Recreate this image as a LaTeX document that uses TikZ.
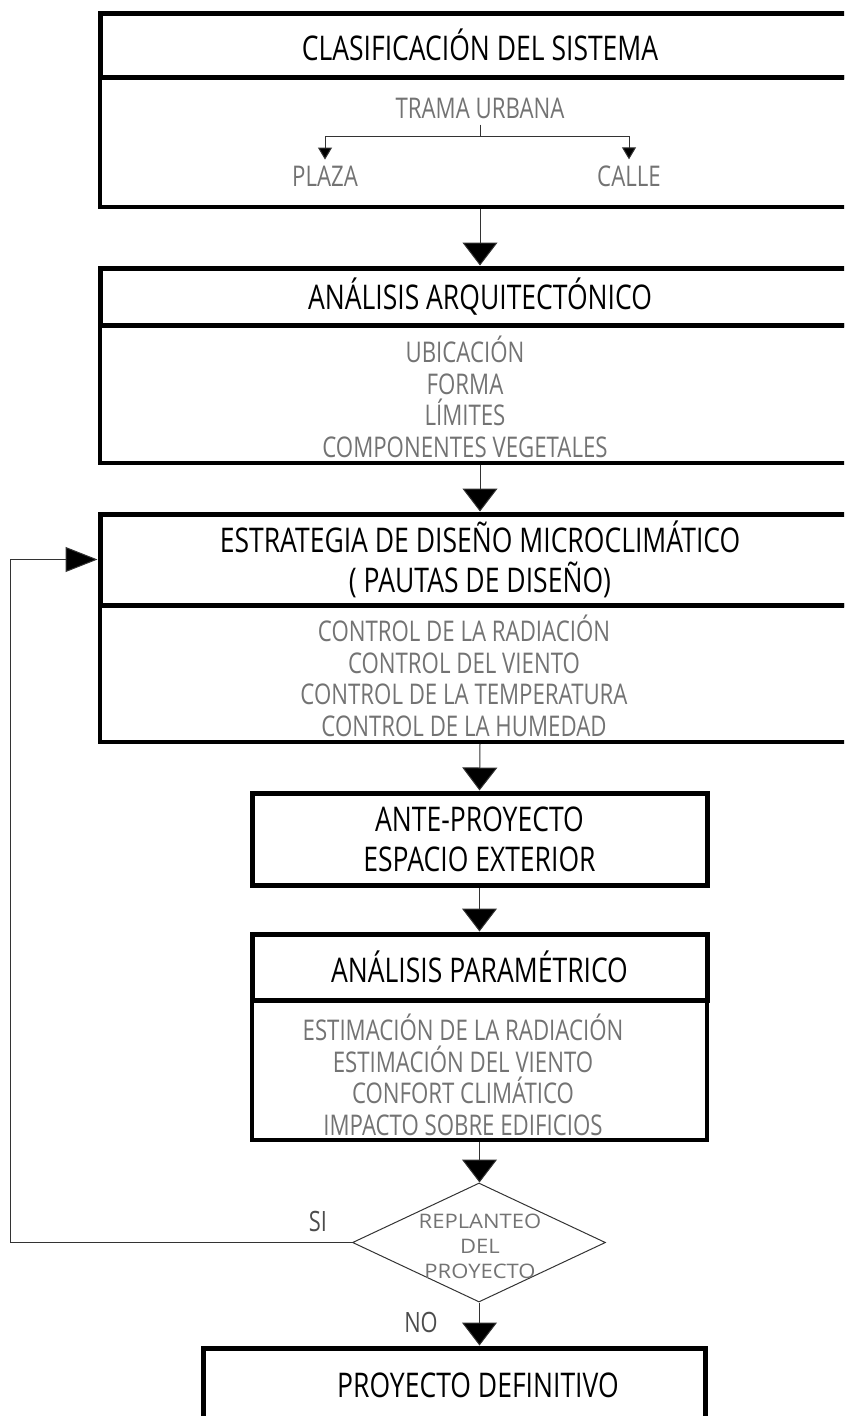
\documentclass[tikz,border=0pt]{standalone}
\usepackage{fontspec}
\setmainfont{Open Sans}
\newfontfamily\nf{Open Sans}[FakeStretch=0.78]
\newfontfamily\wf{Open Sans}[FakeStretch=1.1]
\usetikzlibrary{arrows.meta,shapes.geometric}
\tikzset{
  hdr/.style={draw=black, line width=5pt, inner sep=0pt, font=\nf\fontsize{34}{40}\selectfont, align=center},
  body/.style={draw=black, line width=3.5pt, inner sep=0pt},
  itm/.style={inner sep=0pt, text=black!55, font=\nf\fontsize{28.5}{31.5}\selectfont, align=center},
  lbl/.style={inner sep=0pt, text=black!70, font=\nf\fontsize{28}{31}\selectfont},
  dtxt/.style={inner sep=0pt, text=black!55, font=\wf\fontsize{20}{25}\selectfont, align=center},
  arr/.style={line width=1pt, draw=black!80, -{Triangle[width=35pt,length=23pt,fill=black]}},
  sarr/.style={line width=1pt, draw=black!80, -{Triangle[width=14pt,length=12pt,fill=black]}},
  fbarr/.style={line width=1pt, draw=black!80, -{Triangle[width=25pt,length=32pt,fill=black]}},
  tline/.style={line width=1pt, draw=black!80}
}
\begin{document}
\begin{tikzpicture}[x=1pt,y=-1pt]
\useasboundingbox (0,0) rectangle (844,1416);
\clip (0,0) rectangle (844,1416);
% Box 1
\node[body, minimum width=760pt, minimum height=130pt] (b1body) at (480,142) {};
\node[hdr, minimum width=760pt, minimum height=64pt, fill=white] (b1hdr) at (480,45) {CLASIFICACIÓN DEL SISTEMA};
\node[itm] (trama) at (480,108) {TRAMA URBANA};
\node[itm] (plaza) at (325,176) {PLAZA};
\node[itm] (calle) at (629,176) {CALLE};
\coordinate (br) at (480,136);
\draw[tline] ([yshift=-6pt]trama.south) -- (br);
\draw[sarr] (br) -| ([yshift=6pt]plaza.north);
\draw[sarr] (br) -| ([yshift=6pt]calle.north);
% Box 2
\node[body, minimum width=760pt, minimum height=138pt] (b2body) at (480,394) {};
\node[hdr, minimum width=760pt, minimum height=57pt, fill=white] (b2hdr) at (480,296.5) {ANÁLISIS ARQUITECTÓNICO};
\node[itm] (b2items) at (465,397) {UBICACIÓN\\FORMA\\LÍMITES\\COMPONENTES VEGETALES};
% Box 3
\node[body, minimum width=760pt, minimum height=137pt] (b3body) at (480,673.5) {};
\node[hdr, minimum width=760pt, minimum height=91pt, fill=white] (b3hdr) at (480,559.5) {ESTRATEGIA DE DISEÑO MICROCLIMÁTICO\\( PAUTAS DE DISEÑO)};
\node[itm] (b3items) at (464,676) {CONTROL DE LA RADIACIÓN\\CONTROL DEL VIENTO\\CONTROL DE LA TEMPERATURA\\CONTROL DE LA HUMEDAD};
% Box 4
\node[hdr, minimum width=455pt, minimum height=92pt] (b4) at (479.5,839) {ANTE-PROYECTO\\ESPACIO EXTERIOR};
% Box 5
\node[body, minimum width=455pt, minimum height=140pt] (b5body) at (479.5,1070) {};
\node[hdr, minimum width=455pt, minimum height=66pt, fill=white] (b5hdr) at (479.5,967) {ANÁLISIS PARAMÉTRICO};
\node[itm] (b5items) at (463,1075) {ESTIMACIÓN DE LA RADIACIÓN\\ESTIMACIÓN DEL VIENTO\\CONFORT CLIMÁTICO\\IMPACTO SOBRE EDIFICIOS};
% Diamond
\node[draw=black!80, line width=1pt, diamond, minimum width=253pt, minimum height=119pt, inner sep=0pt] (dia) at (479,1242.5) {};
\node[dtxt] (diatxt) at (480,1246) {REPLANTEO\\DEL\\PROYECTO};
\node[lbl] (si) at (318,1221) {SI};
\node[lbl] (no) at (421,1322) {NO};
% Final box
\node[hdr, minimum width=502pt, minimum height=102pt] (fin) at (454,1399) {};
\node[hdr, draw=none] (fintxt) at (478,1385) {PROYECTO DEFINITIVO};
% Connectors
\draw[arr] (b1body.south) -- (b2hdr.north);
\draw[arr] (b2body.south) -- (b3hdr.north);
\draw[arr] (b3body.south) -- (b4.north);
\draw[arr] (b4.south) -- (b5hdr.north);
\draw[arr] (b5body.south) -- (dia.north -| b5body.south);
\draw[arr] (dia.south -| b5body.south) -- (b5body.south |- fin.north);
\coordinate (fbx) at (10,1242.5);
\draw[fbarr] (dia.west) -- (fbx) |- (b3hdr.west);
\end{tikzpicture}
\end{document}
